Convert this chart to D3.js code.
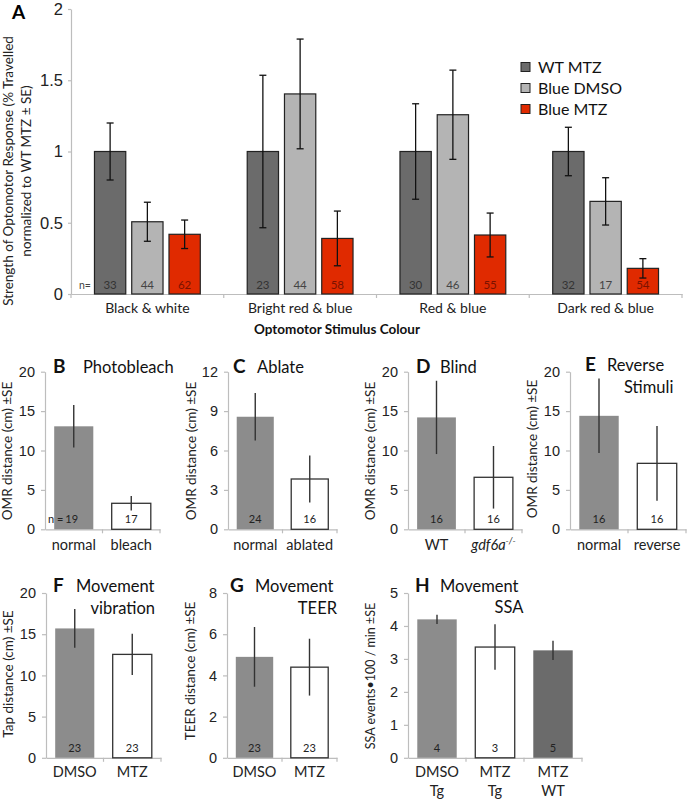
<!DOCTYPE html>
<html><head><meta charset="utf-8">
<script src="https://cdn.jsdelivr.net/npm/d3@7"></script>
<style>
body{margin:0;background:#fff;}
svg{display:block;font-family:Lato,"Open Sans",sans-serif;}
.ax path,.ax line{stroke:#bdbdbd;stroke-width:1.2;}
</style></head><body>
<svg id="c" width="689" height="799"></svg>
<script>
// ---------- Panel A data ----------
const catsA = ["Black & white","Bright red & blue","Red & blue","Dark red & blue"];
const seriesA = ["WT MTZ","Blue DMSO","Blue MTZ"];
const wtMtz = [1.0, 1.0, 1.0, 1.0];
const wtMtzSE = [0.2, 0.535, 0.335, 0.17];
const blueDmso = [0.507, 1.404, 1.258, 0.65];
const blueDmsoSE = [0.137, 0.385, 0.313, 0.166];
const blueMtz = [0.419, 0.39, 0.414, 0.18];
const blueMtzSE = [0.1, 0.192, 0.154, 0.068];
const nWt = [33, 23, 30, 32];
const nDmso = [44, 44, 46, 17];
const nMtz = [62, 58, 55, 54];
const ticksA = [0, 0.5, 1, 1.5, 2];

// ---------- Panels B-H data ----------
const catsB = ["normal","bleach"];   const valsB = [13.07, 3.3];  const seB = [2.7, 0.92];  const nB = [19, 17];
const catsC = ["normal","ablated"];  const valsC = [8.57, 3.83];  const seC = [1.8, 1.78];  const nC = [24, 16];
const catsD = ["WT","gdf6a"];        const valsD = [14.2, 6.6];   const seD = [4.65, 3.97]; const nD = [16, 16];
const catsE = ["normal","reverse"];  const valsE = [14.4, 8.37];  const seE = [4.73, 4.75]; const nE = [16, 16];
const catsF = ["DMSO","MTZ"];        const valsF = [15.7, 12.55]; const seF = [2.35, 2.5];  const nF = [23, 23];
const catsG = ["DMSO","MTZ"];        const valsG = [4.9, 4.4];    const seG = [1.45, 1.38]; const nG = [23, 23];
const catsH = ["DMSO Tg","MTZ Tg","MTZ WT"]; const valsH = [4.2, 3.36, 3.26]; const seH = [0.14, 0.69, 0.29]; const nH = [4, 3, 5];
const ticksOMR20 = [0,5,10,15,20];
const ticksC = [0,3,6,9,12];
const ticksG = [0,2,4,6,8];
const ticksH = [0,1,2,3,4,5];

const svg = d3.select("#c");
const colA = ["#6b6b6b","#b4b4b4","#e02a00"];
const nColA = ["#333","#444","#7a1200"];

// ================= Panel A =================
(function(){
  const x0 = 71, x1 = 682, yTop = 9, yBot = 294;
  const x = d3.scaleBand().domain(catsA).range([x0, x1]).paddingInner(0).paddingOuter(0);
  const xs = d3.scaleBand().domain(seriesA).range([0, x.bandwidth()]).paddingInner(0.16).paddingOuter(0.63);
  const y = d3.scaleLinear().domain([0, 2]).range([yBot, yTop]);
  const g = svg.append("g");
  const ya = g.append("g").attr("class","ax").attr("transform",`translate(${x0},0)`)
    .call(d3.axisLeft(y).tickValues(ticksA).tickFormat(d=>d).tickSize(3).tickPadding(5).tickSizeOuter(0));
  ya.selectAll("text").attr("font-size",16.5).attr("fill","#222");
  g.append("g").attr("class","ax").attr("transform",`translate(0,${yBot})`)
    .call(d3.axisBottom(x).tickSize(0).tickFormat("").tickSizeOuter(0));
  const bounds = catsA.map(c=>x(c)).concat([x1]);
  g.selectAll(".bt").data(bounds).join("line").attr("x1",d=>d).attr("x2",d=>d)
    .attr("y1",yBot).attr("y2",yBot+4).attr("stroke","#bdbdbd").attr("stroke-width",1.2);
  const sets = [[wtMtz,wtMtzSE,nWt],[blueDmso,blueDmsoSE,nDmso],[blueMtz,blueMtzSE,nMtz]];
  sets.forEach((s,si)=>{
    const [vals, se, ns] = s;
    catsA.forEach((c,ci)=>{
      const bx = x(c)+xs(seriesA[si]);
      const bw = xs.bandwidth();
      g.append("rect").attr("x",bx).attr("y",y(vals[ci])).attr("width",bw).attr("height",yBot-y(vals[ci]))
        .attr("fill",colA[si]).attr("stroke","#222").attr("stroke-width",1.2);
      const cx = bx + bw/2;
      g.append("line").attr("x1",cx).attr("x2",cx).attr("y1",y(vals[ci]+se[ci])).attr("y2",y(vals[ci]-se[ci]))
        .attr("stroke","#111").attr("stroke-width",1.3);
      [vals[ci]+se[ci], vals[ci]-se[ci]].forEach(v=>{
        g.append("line").attr("x1",cx-3.5).attr("x2",cx+3.5).attr("y1",y(v)).attr("y2",y(v))
          .attr("stroke","#111").attr("stroke-width",1.3);
      });
      g.append("text").attr("x",cx).attr("y",yBot-5).attr("text-anchor","middle")
        .attr("font-size",11.5).attr("fill",nColA[si]).text(ns[ci]);
    });
  });
  g.append("text").attr("x",79).attr("y",yBot-5).attr("font-size",10.5).attr("fill","#444").text("n=");
  catsA.forEach(c=>{
    g.append("text").attr("x",x(c)+x.bandwidth()/2).attr("y",313).attr("text-anchor","middle")
      .attr("font-size",14).attr("fill","#222").text(c);
  });
  g.append("text").attr("x",337).attr("y",334).attr("text-anchor","middle").attr("font-size",13.5)
    .attr("font-weight","bold").attr("fill","#111").text("Optomotor Stimulus Colour");
  const yt = g.append("text").attr("transform","translate(0,171) rotate(-90)").attr("text-anchor","middle")
    .attr("font-size",13.5).attr("fill","#222");
  yt.append("tspan").attr("x",0).attr("y",13).text("Strength of Optomotor Response (% Travelled");
  yt.append("tspan").attr("x",0).attr("y",31).text("normalized to WT MTZ ± SE)");
  g.append("text").attr("x",12).attr("y",18.5).attr("font-size",19).attr("font-weight","bold").text("A");
  seriesA.forEach((s,i)=>{
    const ly = 67 + i*21;
    g.append("rect").attr("x",521).attr("y",ly-4.5).attr("width",9).attr("height",9)
      .attr("fill",colA[i]).attr("stroke","#222").attr("stroke-width",1);
    g.append("text").attr("x",538).attr("y",ly).attr("dy","0.36em").attr("font-size",16).attr("fill","#111").text(s);
  });
})();

// ================= small panels =================
const gray = "#8c8c8c";
function panel(o){
  const {cats, vals, se, ns, ticks, x0, x1, yTop, yBot, fills} = o;
  const g = svg.append("g");
  const x = d3.scaleBand().domain(cats).range([x0, x1]).paddingInner(0.32).paddingOuter(0.16);
  const xb = d3.scaleBand().domain(cats).range([x0, x1]).padding(0);
  const y = d3.scaleLinear().domain([0, d3.max(ticks)]).range([yBot, yTop]);
  const ya = g.append("g").attr("class","ax").attr("transform",`translate(${x0},0)`)
    .call(d3.axisLeft(y).tickValues(ticks).tickFormat(d=>d).tickSize(4).tickPadding(6).tickSizeOuter(0));
  ya.selectAll("text").attr("font-size",14.5).attr("fill","#222");
  g.append("g").attr("class","ax").attr("transform",`translate(0,${yBot})`)
    .call(d3.axisBottom(xb).tickSize(0).tickFormat("").tickSizeOuter(0));
  const bounds = cats.slice(1).map(c=>xb(c)).concat([x1]);
  g.selectAll(".bt").data(bounds).join("line").attr("x1",d=>d).attr("x2",d=>d)
    .attr("y1",yBot).attr("y2",yBot+4).attr("stroke","#bdbdbd").attr("stroke-width",1.2);
  cats.forEach((c,i)=>{
    const f = fills[i];
    const bx = x(c), bw = x.bandwidth();
    g.append("rect").attr("x",bx).attr("y",y(vals[i])).attr("width",bw).attr("height",yBot-y(vals[i]))
      .attr("fill",f).attr("stroke",f==="#fff"?"#333":"none").attr("stroke-width",1.3);
    const cx = bx + bw/2;
    g.append("line").attr("x1",cx).attr("x2",cx).attr("y1",y(vals[i]+se[i])).attr("y2",y(vals[i]-se[i]))
      .attr("stroke","#333").attr("stroke-width",1.4);
    g.append("text").attr("x",cx + (o.nPrefix && i===0 ? -2 : 0)).attr("y",yBot-6).attr("text-anchor","middle")
      .attr("font-size",o.nSize||11).attr("fill","#222").text(ns[i]);
    const lbl = o.labels ? o.labels[i] : [c];
    lbl.forEach((t,li)=>{
      const tx = g.append("text").attr("x",xb(c)+xb.bandwidth()/2).attr("y",o.lblY + li*19)
        .attr("text-anchor","middle").attr("font-size",14.5).attr("fill","#222");
      if (t === "gdf6a") {
        tx.append("tspan").attr("font-style","italic").text("gdf6a");
        tx.append("tspan").attr("font-style","italic").attr("font-size",9).attr("dy",-6).text("-/-");
      } else tx.text(t);
    });
  });
  if (o.nPrefix) g.append("text").attr("x",x0+3).attr("y",yBot-6).attr("font-size",11).attr("fill","#222").text("n =");
  g.append("text").attr("transform",`translate(${o.ytX},${o.ytY}) rotate(-90)`).attr("text-anchor","middle")
    .attr("font-size",o.ytSize||13.5).attr("fill","#222").text(o.ytitle);
  g.append("text").attr("x",o.L[0]).attr("y",o.L[1]).attr("font-size",19).attr("font-weight","bold").attr("fill","#111").text(o.L[2]);
  o.T.forEach(t=>{
    g.append("text").attr("x",t[0]).attr("y",t[1]).attr("text-anchor",t[3]||"start")
      .attr("font-size",16.5).attr("fill","#111").text(t[2]);
  });
}

const row1 = {yTop:371.7, yBot:529.3, lblY:550};
const row2 = {yTop:593, yBot:757.8, lblY:776.5};

panel(Object.assign({cats:catsB, vals:valsB, se:seB, ns:nB, ticks:ticksOMR20, x0:45, x1:160, fills:[gray,"#fff"], nPrefix:true,
  ytitle:"OMR distance (cm) ±SE", ytX:12, ytY:451, L:[53,373,"B"], T:[[83,373,"Photobleach"]]}, row1));
panel(Object.assign({cats:catsC, vals:valsC, se:seC, ns:nC, ticks:ticksC, x0:228, x1:337, fills:[gray,"#fff"],
  ytitle:"OMR distance (cm) ±SE", ytX:196, ytY:451, L:[233,373,"C"], T:[[257,373,"Ablate"]]}, row1));
panel(Object.assign({cats:catsD, vals:valsD, se:seD, ns:nD, ticks:ticksOMR20, x0:408, x1:522, fills:[gray,"#fff"],
  ytitle:"OMR distance (cm) ±SE", ytX:375, ytY:451, L:[416,373,"D"], T:[[440,373,"Blind"]]}, row1));
panel(Object.assign({cats:catsE, vals:valsE, se:seE, ns:nE, ticks:ticksOMR20, x0:570, x1:686, fills:[gray,"#fff"],
  ytitle:"OMR distance (cm) ±SE", ytX:537, ytY:449, L:[585,371,"E"], T:[[607,371,"Reverse"],[624,393,"Stimuli"]]}, row1));
panel(Object.assign({cats:catsF, vals:valsF, se:seF, ns:nF, ticks:ticksOMR20, x0:46, x1:161, fills:[gray,"#fff"],
  ytitle:"Tap distance (cm) ±SE", ytX:13, ytY:674, L:[53,591.5,"F"], T:[[76,591.5,"Movement"],[155,614,"vibration","end"]]}, row2));
panel(Object.assign({cats:catsG, vals:valsG, se:seG, ns:nG, ticks:ticksG, x0:227, x1:337, fills:[gray,"#fff"],
  ytitle:"TEER distance (cm) ±SE", ytX:195, ytY:671, L:[230,591.5,"G"], T:[[255,591.5,"Movement"],[337,614,"TEER","end"]]}, row2));
panel(Object.assign({cats:catsH, vals:valsH, se:seH, ns:nH, ticks:ticksH, x0:408, x1:582, fills:[gray,"#fff","#6b6b6b"],
  labels:[["DMSO","Tg"],["MTZ","Tg"],["MTZ","WT"]], ytSize:12.5,
  ytitle:"SSA events\u2022100 / min ±SE", ytX:375, ytY:676, L:[415,591.5,"H"], T:[[440,591.5,"Movement"],[509,613,"SSA","middle"]]}, row2));
</script>
</body></html>
